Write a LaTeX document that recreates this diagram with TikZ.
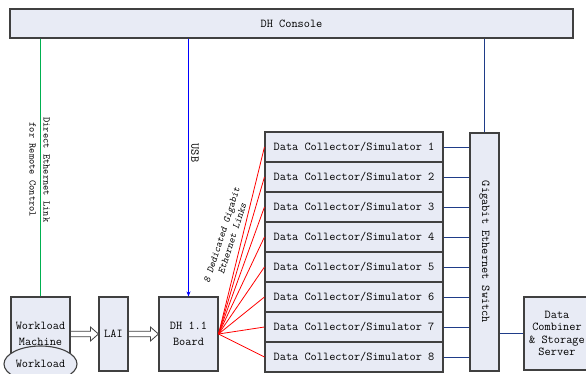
\documentclass[tikz,border=0pt]{standalone}
\usepackage{fontspec}
\usetikzlibrary{calc,shapes.geometric,arrows.meta}

\definecolor{boxfill}{HTML}{E8EBF5}
\definecolor{boxline}{HTML}{404040}
\definecolor{linkgreen}{HTML}{00B050}
\definecolor{linkblue}{HTML}{0000FF}
\definecolor{linknavy}{HTML}{1F3C88}
\definecolor{linkred}{HTML}{FF0000}

\tikzset{
  box/.style={draw=boxline, fill=boxfill, line width=1.1pt, inner sep=0pt,
    align=center, font=\ttfamily\fontsize{12}{15.5}\selectfont},
  vlabel/.style={inner sep=0pt, align=center, rotate=-90},
  navylink/.style={draw=linknavy, line width=0.8pt},
  redlink/.style={draw=linkred, line width=0.8pt},
}

% open block arrow from the east side of #1 to the west side of #2
\newcommand\hollowarrow[2]{%
  \draw[boxline, line width=0.8pt, fill=white]
    ($(#1.east)+(0,-2.8)$) -- ($(#2.west)+(-8,-2.8)$) -- ($(#2.west)+(-8,-7)$)
    -- (#2.west) -- ($(#2.west)+(-8,7)$) -- ($(#2.west)+(-8,2.8)$)
    -- ($(#1.east)+(0,2.8)$) -- cycle;}

\begin{document}
\begin{tikzpicture}[x=1pt,y=-1pt]
\clip (0,0) rectangle (586,374);

% console bar
\node[box, minimum width=563, minimum height=29] (console) at (291.5,23.5) {DH Console};

% workload chain
\node[box, minimum width=59, minimum height=74] (wm) at (40.5,334) {Workload\\Machine};
\node[box, minimum width=29, minimum height=74] (lai) at (113.5,334) {LAI};
\node[box, minimum width=59, minimum height=74] (board) at (188.5,334) {DH 1.1\\Board};
\node[draw=boxline, fill=boxfill, line width=1.1pt, ellipse, inner sep=0pt,
  minimum width=73, minimum height=36, font=\ttfamily\fontsize{12}{14}\selectfont]
  (wl) at (40.5,364) {Workload};

\hollowarrow{wm}{lai}
\hollowarrow{lai}{board}

% data collectors
\foreach \i in {1,...,8}{
  \node[box, minimum width=178, minimum height=30] (dc\i) at (354,{117+30*\i}) {Data Collector/Simulator \i};
}

% switch and server
\node[box, minimum width=29, minimum height=238] (sw) at (484.5,252) {};
\node[vlabel, font=\ttfamily\fontsize{12}{14}\selectfont] (swtext) at (sw.center) {Gigabit Ethernet Switch};
\node[box, minimum width=66, minimum height=73, font=\ttfamily\fontsize{12}{12.5}\selectfont]
  (srv) at (557,333.5) {Data\\Combiner\\\& Storage\\Server};

% links from the console
\draw[linkgreen, line width=0.8pt] (console.south -| wm.north) -- (wm.north);
\draw[linkblue, line width=0.8pt, -{Stealth[length=5pt,width=4pt]}] (console.south -| board.north) -- (board.north);
\draw[navylink] (console.south -| sw.north) -- (sw.north);

% gigabit links
\foreach \i in {1,...,8}{
  \draw[redlink] (board.east) -- (dc\i.west);
  \draw[navylink] (dc\i.east) -- (dc\i.east -| sw.west);
}
\draw[navylink] (sw.east |- srv.west) -- (srv.west);

% link labels
\node[vlabel, font=\ttfamily\fontsize{10}{14}\selectfont] (remote) at (39.5,170)
  {Direct Ethernet Link\\for Remote Control};
\node[vlabel, font=\ttfamily\fontsize{12}{14}\selectfont] (usb) at (195,153) {USB};
\node[inner sep=0pt, align=center, rotate=72, font=\ttfamily\slshape\fontsize{10}{11}\selectfont]
  (gig) at (227,237) {8 Dedicated Gigabit\\Ethernet Links};
\end{tikzpicture}
\end{document}
